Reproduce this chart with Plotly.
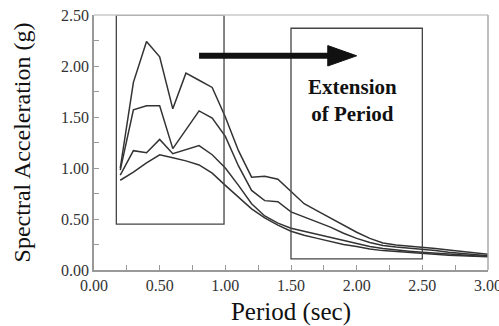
import plotly.graph_objects as go

period = [0.2, 0.3, 0.4, 0.5, 0.6, 0.7, 0.8, 0.9, 1.0, 1.1, 1.2, 1.3, 1.4, 1.5,
          1.6, 1.7, 1.8, 1.9, 2.0, 2.1, 2.2, 2.3, 2.4, 2.5, 2.6, 2.7, 2.8, 2.9, 3.0]

sa_1 = [1.00, 1.84, 2.24, 2.09, 1.58, 1.93, 1.86, 1.79, 1.50, 1.17, 0.91, 0.92, 0.89, 0.77,
        0.65, 0.58, 0.51, 0.44, 0.37, 0.31, 0.265, 0.245, 0.235, 0.225, 0.21, 0.195, 0.18, 0.165, 0.155]
sa_2 = [0.98, 1.57, 1.61, 1.61, 1.19, 1.37, 1.56, 1.49, 1.31, 1.02, 0.78, 0.68, 0.67, 0.57,
        0.52, 0.47, 0.42, 0.36, 0.31, 0.27, 0.24, 0.225, 0.215, 0.205, 0.19, 0.175, 0.165, 0.15, 0.14]
sa_3 = [0.93, 1.17, 1.15, 1.28, 1.14, 1.18, 1.22, 1.13, 1.00, 0.83, 0.65, 0.53, 0.46, 0.41,
        0.38, 0.35, 0.32, 0.29, 0.255, 0.23, 0.21, 0.195, 0.185, 0.175, 0.165, 0.155, 0.15, 0.14, 0.135]
sa_4 = [0.88, 0.96, 1.05, 1.13, 1.10, 1.07, 1.03, 0.95, 0.83, 0.71, 0.60, 0.51, 0.44, 0.38,
        0.34, 0.31, 0.28, 0.25, 0.23, 0.205, 0.19, 0.18, 0.17, 0.16, 0.15, 0.145, 0.14, 0.135, 0.13]

x_ticks = [0.0, 0.5, 1.0, 1.5, 2.0, 2.5, 3.0]
x_tick_labels = ["0.00", "0.50", "1.00", "1.50", "2.00", "2.50", "3.00"]
y_ticks = [0.0, 0.5, 1.0, 1.5, 2.0, 2.5]
y_tick_labels = ["0.00", "0.50", "1.00", "1.50", "2.00", "2.50"]

box_short = [0.17, 0.99, 0.45, 2.50]   # x0, x1, y0, y1
box_long = [1.50, 2.50, 0.11, 2.37]
arrow_x = [0.80, 1.78, 2.00]
arrow_y = 2.10
note_text = "<b>Extension</b><br><b>of Period</b>"
note_pos = [1.97, 1.66]

serif = "Liberation Serif"
line_col = "#333333"

fig = go.Figure()
for s in [sa_1, sa_2, sa_3, sa_4]:
    fig.add_trace(go.Scatter(x=period, y=s, mode="lines",
                             line=dict(color=line_col, width=1.5),
                             showlegend=False, hoverinfo="skip"))

# boxes
for b in [box_short, box_long]:
    fig.add_shape(type="rect", xref="x", yref="y", x0=b[0], x1=b[1], y0=b[2], y1=b[3],
                  line=dict(color="#444444", width=1.3), fillcolor="rgba(0,0,0,0)")

# arrow
fig.add_shape(type="line", xref="x", yref="y", x0=arrow_x[0], x1=arrow_x[1] + 0.02,
              y0=arrow_y, y1=arrow_y, line=dict(color="#111111", width=6))
fig.add_shape(type="path", xref="x", yref="y",
              path=f"M {arrow_x[1]},{arrow_y + 0.10} L {arrow_x[2]},{arrow_y} L {arrow_x[1]},{arrow_y - 0.10} Z",
              fillcolor="#111111", line=dict(color="#111111", width=1))

# light frame top/right
fig.add_shape(type="line", xref="paper", yref="paper", x0=0, x1=1, y0=1, y1=1,
              line=dict(color="#c8c8c8", width=1.5))
fig.add_shape(type="line", xref="paper", yref="paper", x0=1, x1=1, y0=0, y1=1,
              line=dict(color="#aaaaaa", width=1.5))

fig.add_annotation(x=note_pos[0], y=note_pos[1], xref="x", yref="y", text=note_text,
                   showarrow=False, font=dict(family=serif, size=21, color="#111111"),
                   align="center")

axis_common = dict(showgrid=False, zeroline=False, showline=True, linecolor="#999999",
                   linewidth=1.5, ticks="inside", ticklen=5, tickcolor="#999999",
                   ticklabeloverflow="allow", automargin=False,
                   tickfont=dict(family=serif, size=16, color="#333333"))

fig.update_xaxes(range=[0, 3], tickvals=x_ticks, ticktext=x_tick_labels,
                 minor=dict(tickvals=[0.25, 0.75, 1.25, 1.75, 2.25, 2.75], ticks="inside",
                            ticklen=5, tickcolor="#999999"),
                 title=dict(text="Period (sec)", font=dict(family=serif, size=25, color="#111111"),
                            standoff=17),
                 **axis_common)
fig.update_yaxes(range=[0, 2.5], tickvals=y_ticks, ticktext=y_tick_labels,
                 minor=dict(tickvals=[0.25, 0.75, 1.25, 1.75, 2.25], ticks="inside",
                            ticklen=5, tickcolor="#999999"),
                 title=dict(text="Spectral Acceleration (g)",
                            font=dict(family=serif, size=24, color="#111111"), standoff=24),
                 **axis_common)

fig.update_layout(width=499, height=326, margin=dict(l=94, r=11, t=15, b=56),
                  plot_bgcolor="white", paper_bgcolor="white")

fig.write_html("out.html")
